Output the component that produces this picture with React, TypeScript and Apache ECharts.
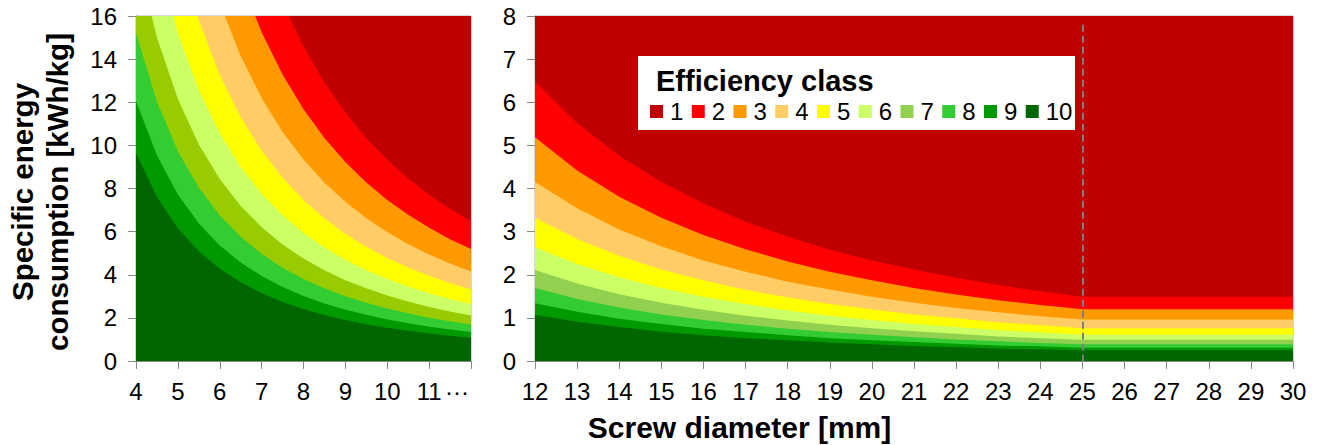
import React, { useEffect, useRef } from "react";
import * as echarts from "echarts";

const FONT = 'Arial, "Liberation Sans", sans-serif';

const CLASSES = ["1", "2", "3", "4", "5", "6", "7", "8", "9", "10"];
const COLORS = ["#C00000", "#FF0000", "#FF9900", "#FFCC66", "#FFFF00", "#CCFF66", "#92D050", "#33CC33", "#009900", "#006600"];
const LEFT_COLORS = ["#C00000", "#FF0000", "#FF9900", "#FFCC66", "#FFFF00", "#CCFF66", "#99CC00", "#33CC33", "#009900", "#006600"];

// Left panel: screw diameter 4..12 mm (upper boundary of each class, kWh/kg)
const leftD = [4, 4.5, 5, 5.5, 6, 6.5, 7, 7.5, 8, 8.5, 9, 9.5, 10, 10.5, 11, 11.5, 12];
const leftC1 = [16, 16, 16, 16, 16, 16, 16, 16, 16, 16, 16, 16, 16, 16, 16, 16, 16];
const leftC2 = [58.32, 46.08, 37.32, 30.84, 25.92, 22.08, 19.04, 16.59, 14.58, 12.91, 11.52, 10.34, 9.33, 8.46, 7.71, 7.06, 6.48];
const leftC3 = [46.71, 36.91, 29.89, 24.7, 20.76, 17.69, 15.25, 13.29, 11.68, 10.34, 9.23, 8.28, 7.47, 6.78, 6.18, 5.65, 5.19];
const leftC4 = [37.35, 29.51, 23.9, 19.75, 16.6, 14.14, 12.2, 10.62, 9.34, 8.27, 7.38, 6.62, 5.98, 5.42, 4.94, 4.52, 4.15];
const leftC5 = [29.88, 23.61, 19.12, 15.8, 13.28, 11.31, 9.76, 8.5, 7.47, 6.62, 5.9, 5.3, 4.78, 4.34, 3.95, 3.62, 3.32];
const leftC6 = [23.76, 18.77, 15.21, 12.57, 10.56, 9.0, 7.76, 6.76, 5.94, 5.26, 4.69, 4.21, 3.8, 3.45, 3.14, 2.87, 2.64];
const leftC7 = [18.99, 15.0, 12.15, 10.04, 8.44, 7.19, 6.2, 5.4, 4.75, 4.21, 3.75, 3.37, 3.04, 2.76, 2.51, 2.3, 2.11];
const leftC8 = [15.21, 12.02, 9.73, 8.04, 6.76, 5.76, 4.97, 4.33, 3.8, 3.37, 3.0, 2.7, 2.43, 2.21, 2.01, 1.84, 1.69];
const leftC9 = [12.06, 9.53, 7.72, 6.38, 5.36, 4.57, 3.94, 3.43, 3.02, 2.67, 2.38, 2.14, 1.93, 1.75, 1.59, 1.46, 1.34];
const leftC10 = [9.63, 7.61, 6.16, 5.09, 4.28, 3.65, 3.14, 2.74, 2.41, 2.13, 1.9, 1.71, 1.54, 1.4, 1.27, 1.17, 1.07];

// Right panel: screw diameter 12..30 mm
const rightD = [12, 13, 14, 15, 16, 17, 18, 19, 20, 21, 22, 23, 24, 25, 26, 27, 28, 29, 30];
const rightC1 = [8, 8, 8, 8, 8, 8, 8, 8, 8, 8, 8, 8, 8, 8, 8, 8, 8, 8, 8];
const rightC2 = [6.48, 5.52, 4.76, 4.15, 3.65, 3.23, 2.88, 2.58, 2.33, 2.12, 1.93, 1.76, 1.62, 1.49, 1.49, 1.49, 1.49, 1.49, 1.49];
const rightC3 = [5.19, 4.42, 3.81, 3.32, 2.92, 2.59, 2.31, 2.07, 1.87, 1.69, 1.54, 1.41, 1.3, 1.2, 1.2, 1.2, 1.2, 1.2, 1.2];
const rightC4 = [4.15, 3.54, 3.05, 2.66, 2.33, 2.07, 1.84, 1.66, 1.49, 1.35, 1.23, 1.13, 1.04, 0.96, 0.96, 0.96, 0.96, 0.96, 0.96];
const rightC5 = [3.32, 2.83, 2.44, 2.12, 1.87, 1.65, 1.48, 1.32, 1.2, 1.08, 0.99, 0.9, 0.83, 0.76, 0.76, 0.76, 0.76, 0.76, 0.76];
const rightC6 = [2.64, 2.25, 1.94, 1.69, 1.49, 1.32, 1.17, 1.05, 0.95, 0.86, 0.79, 0.72, 0.66, 0.61, 0.61, 0.61, 0.61, 0.61, 0.61];
const rightC7 = [2.11, 1.8, 1.55, 1.35, 1.19, 1.05, 0.94, 0.84, 0.76, 0.69, 0.63, 0.57, 0.53, 0.49, 0.49, 0.49, 0.49, 0.49, 0.49];
const rightC8 = [1.69, 1.44, 1.24, 1.08, 0.95, 0.84, 0.75, 0.67, 0.61, 0.55, 0.5, 0.46, 0.42, 0.39, 0.39, 0.39, 0.39, 0.39, 0.39];
const rightC9 = [1.34, 1.14, 0.98, 0.86, 0.75, 0.67, 0.6, 0.53, 0.48, 0.44, 0.4, 0.36, 0.34, 0.31, 0.31, 0.31, 0.31, 0.31, 0.31];
const rightC10 = [1.07, 0.91, 0.79, 0.68, 0.6, 0.53, 0.48, 0.43, 0.39, 0.35, 0.32, 0.29, 0.27, 0.25, 0.25, 0.25, 0.25, 0.25, 0.25];

const LEFT = [leftC1, leftC2, leftC3, leftC4, leftC5, leftC6, leftC7, leftC8, leftC9, leftC10];
const RIGHT = [rightC1, rightC2, rightC3, rightC4, rightC5, rightC6, rightC7, rightC8, rightC9, rightC10];

const LEFT_Y_MAX = 16;
const RIGHT_Y_MAX = 8;
const CLASS_LIMIT_D = 25;

export default function App() {
  const ref = useRef<HTMLDivElement>(null);

  useEffect(() => {
    document.body.style.margin = "0";
    if (!ref.current) return;
    const chart = echarts.init(ref.current, undefined, { renderer: "svg" });

    const axisLine = { show: true, lineStyle: { color: "#888888", width: 1 } };
    const axisTick = { show: true, inside: false, length: 8, lineStyle: { color: "#888888", width: 1 } };
    const labelStyle = { fontSize: 24, color: "#000", fontFamily: FONT };

    const series: any[] = [];
    RIGHT.forEach((vals, i) => {
      const s: any = {
        type: "line",
        name: CLASSES[i],
        xAxisIndex: 1,
        yAxisIndex: 1,
        data: rightD.map((d, j) => [d, vals[j]]),
        symbol: "none",
        showSymbol: false,
        lineStyle: { width: 0, opacity: 0 },
        itemStyle: { color: COLORS[i] },
        areaStyle: { color: COLORS[i], opacity: 1 },
        silent: true,
      };
      if (i === RIGHT.length - 1) {
        s.markLine = {
          silent: true,
          symbol: ["none", "none"],
          label: { show: false },
          lineStyle: { color: "#7f7f7f", type: [7, 4], width: 2 },
          data: [[{ coord: [CLASS_LIMIT_D, 7.8] }, { coord: [CLASS_LIMIT_D, 0] }]],
        };
      }
      series.push(s);
    });
    LEFT.forEach((vals, i) => {
      series.push({
        type: "line",
        name: CLASSES[i],
        xAxisIndex: 0,
        yAxisIndex: 0,
        data: leftD.map((d, j) => [d, vals[j]]),
        symbol: "none",
        showSymbol: false,
        lineStyle: { width: 0, opacity: 0 },
        itemStyle: { color: LEFT_COLORS[i] },
        areaStyle: { color: LEFT_COLORS[i], opacity: 1 },
        silent: true,
      });
    });

    chart.setOption({
      animation: false,
      backgroundColor: "#ffffff",
      grid: [
        { left: 136, top: 16, width: 335, height: 345, show: true, borderColor: "#b0b0b0", borderWidth: 1, backgroundColor: "transparent" },
        { left: 535, top: 16, width: 758, height: 345, show: true, borderColor: "#b0b0b0", borderWidth: 1, backgroundColor: "transparent" },
      ],
      xAxis: [
        {
          type: "value", gridIndex: 0, min: 4, max: 12, interval: 1,
          axisLine, axisTick, splitLine: { show: false },
          axisLabel: { ...labelStyle, margin: 18, formatter: (v: number) => (v === 12 ? "" : String(v)) },
        },
        {
          type: "value", gridIndex: 1, min: 12, max: 30, interval: 1,
          axisLine, axisTick, splitLine: { show: false },
          axisLabel: { ...labelStyle, margin: 18 },
        },
      ],
      yAxis: [
        {
          type: "value", gridIndex: 0, min: 0, max: LEFT_Y_MAX, interval: 2,
          axisLine, axisTick, splitLine: { show: false },
          axisLabel: { ...labelStyle, margin: 19 },
        },
        {
          type: "value", gridIndex: 1, min: 0, max: RIGHT_Y_MAX, interval: 1,
          axisLine, axisTick, splitLine: { show: false },
          axisLabel: { ...labelStyle, margin: 19 },
        },
      ],
      legend: {
        show: true,
        data: CLASSES.map((name, i) => ({ name, itemStyle: { color: COLORS[i] } })),
        left: 650,
        top: 99.5,
        padding: 0,
        icon: "rect",
        itemWidth: 13,
        itemHeight: 13,
        itemGap: 8.4,
        selectedMode: false,
        z: 60,
        textStyle: { fontSize: 24, color: "#000", fontFamily: FONT, padding: [0, 0, 0, 2] },
      },
      graphic: [
        { type: "rect", z: 50, shape: { x: 638, y: 56, width: 437, height: 74 }, style: { fill: "#ffffff" } },
        {
          type: "text", z: 51, x: 656, y: 81,
          style: { text: "Efficiency class", fontSize: 29, fontWeight: "bold", fontFamily: FONT, fill: "#000", align: "left", verticalAlign: "middle" },
        },
        {
          type: "text", z: 51, x: 739.5, y: 427,
          style: { text: "Screw diameter [mm]", fontSize: 30, fontWeight: "bold", fontFamily: FONT, fill: "#000", align: "center", verticalAlign: "middle" },
        },
        {
          type: "text", z: 51, x: 40, y: 192, rotation: Math.PI / 2,
          style: { text: "Specific energy\nconsumption [kWh/kg]", fontSize: 29.5, fontWeight: "bold", lineHeight: 35, fontFamily: FONT, fill: "#000", align: "center", verticalAlign: "middle" },
        },
        {
          type: "text", z: 51, x: 457, y: 391,
          style: { text: "···", fontSize: 24, fontFamily: FONT, fill: "#000", align: "center", verticalAlign: "middle" },
        },
      ],
      series,
    });

    return () => chart.dispose();
  }, []);

  return <div ref={ref} style={{ width: 1322, height: 445 }} />;
}
